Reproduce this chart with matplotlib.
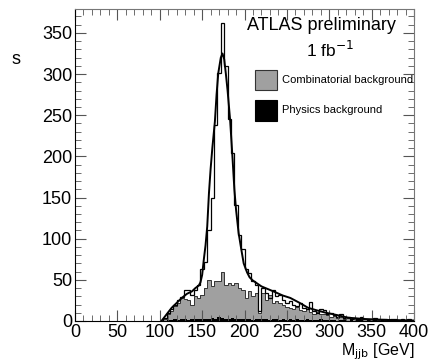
import numpy as np
import matplotlib.pyplot as plt
from matplotlib.patches import Rectangle
from matplotlib.ticker import MultipleLocator

plt.rcParams['font.family'] = ['Liberation Sans', 'DejaVu Sans']

# 4 GeV bins from 104 to 400 GeV
bin_edges = np.arange(104, 401, 4)

total = [4, 10, 14, 20, 25, 29, 38, 38, 32, 38,
         44, 63, 72, 110, 150, 238, 301, 362, 310, 245,
         204, 141, 105, 88, 63, 58, 48, 44, 12, 40,
         34, 28, 38, 30, 32, 25, 22, 24, 20, 18,
         22, 16, 14, 23, 12, 10, 15, 13, 8, 10,
         7, 5, 8, 4, 5, 3, 4, 3, 5, 2,
         3, 2, 4, 3, 2, 3, 1, 2, 2, 1,
         2, 1, 2, 1]

combinatorial = [3, 8, 12, 18, 22, 28, 27, 26, 20, 30,
                 28, 32, 40, 50, 42, 48, 48, 59, 44, 46,
                 44, 46, 40, 38, 28, 36, 30, 34, 10, 34,
                 26, 32, 22, 24, 22, 20, 17, 16, 15, 17,
                 13, 12, 14, 11, 9, 11, 8, 8, 7, 5,
                 6, 4, 5, 3, 4, 3, 2, 3, 2, 2,
                 1, 3, 2, 1, 2, 1, 1, 1, 1, 1,
                 0, 1, 0, 1]

physics = [0, 1, 1, 2, 1, 2, 2, 1, 2, 2,
           3, 2, 3, 2, 4, 3, 5, 4, 3, 2,
           4, 3, 2, 3, 2, 3, 1, 2, 2, 3,
           2, 1, 2, 3, 1, 2, 1, 2, 1, 2,
           1, 1, 2, 1, 1, 1, 2, 1, 1, 1,
           1, 0, 1, 1, 0, 1, 0, 1, 1, 0,
           1, 0, 1, 0, 1, 0, 0, 1, 0, 0,
           1, 0, 0, 0]

# fitted curve
fit_m = [102, 108, 114, 120, 126, 132, 138, 142, 146, 148,
         150, 152, 154, 156, 158, 160, 162, 165, 167, 169,
         172, 174, 176, 178, 180, 183, 186, 188, 190, 193,
         196, 199, 203, 206, 210, 220, 234, 245, 254, 265,
         275, 285, 296, 310, 322, 340, 360, 380, 400]
fit_y = [0, 8, 16, 22, 28, 33, 36, 40, 43, 47,
         56, 75, 92, 115, 155, 185, 210, 242, 275, 301,
         320, 325, 318, 300, 280, 244, 195, 160, 135, 107,
         88, 70, 59, 53, 49, 42, 36, 31, 28, 22,
         16, 13, 10, 7, 4, 2.5, 1.5, 1, 0.5]

fig = plt.figure(figsize=(4.3, 3.62), dpi=100)
ax = fig.add_axes([0.1744, 0.1133, 0.7886, 0.8617])

ax.stairs(combinatorial, bin_edges, fill=True, color='#a0a0a0')
ax.stairs(combinatorial, bin_edges, color='#333333', lw=0.7)
ax.stairs(physics, bin_edges, fill=True, color='black')
ax.stairs(total, bin_edges, color='black', lw=0.9)
ax.plot(fit_m, fit_y, color='black', lw=1.4)

ax.set_xlim(0, 400)
ax.set_ylim(0, 379)
ax.xaxis.set_major_locator(MultipleLocator(50))
ax.xaxis.set_minor_locator(MultipleLocator(10))
ax.yaxis.set_major_locator(MultipleLocator(50))
ax.yaxis.set_minor_locator(MultipleLocator(10))
ax.tick_params(which='both', direction='in', top=True, right=True,
               color='#555555', labelsize=13, pad=2)
ax.tick_params(axis='x', pad=2.5)
ax.tick_params(which='major', length=8)
ax.tick_params(which='minor', length=4.5)
for side in ['top', 'right']:
    ax.spines[side].set_color('#777777')

ax.set_xlabel('M$_{\\rm jjb}$ [GeV]', fontsize=11.5, loc='right', labelpad=0)

fig.text(12 / 430, 1 - 60 / 362, 's', fontsize=13, va='center', ha='left')

ax.text(0.727, 0.946, 'ATLAS preliminary', transform=ax.transAxes,
        ha='center', va='center', fontsize=13)
ax.text(0.752, 0.869, '1 fb$^{-1}$', transform=ax.transAxes,
        ha='center', va='center', fontsize=12.5)

ax.add_patch(Rectangle((0.531, 0.740), 0.065, 0.064, transform=ax.transAxes,
                       facecolor='#a0a0a0', edgecolor='#333333', lw=0.8))
ax.add_patch(Rectangle((0.531, 0.641), 0.065, 0.067, transform=ax.transAxes,
                       facecolor='black', edgecolor='black', lw=0.8))
ax.text(0.611, 0.772, 'Combinatorial background', transform=ax.transAxes,
        ha='left', va='center', fontsize=8)
ax.text(0.611, 0.676, 'Physics background', transform=ax.transAxes,
        ha='left', va='center', fontsize=8)

fig.savefig('out.png', dpi=100)
